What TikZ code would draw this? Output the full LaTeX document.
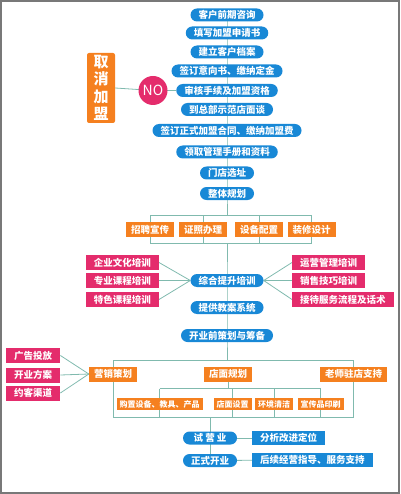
\documentclass[tikz,border=0pt]{standalone}
\usepackage{fontspec}
\setmainfont{Noto Sans CJK SC}
\usepackage{tikz}
\usetikzlibrary{positioning, backgrounds, calc}

\definecolor{pillblue}{RGB}{24,136,214}
\definecolor{boxorange}{RGB}{245,128,31}
\definecolor{boxpink}{RGB}{228,44,108}
\definecolor{linkgreen}{RGB}{128,186,174}
\definecolor{framegray}{RGB}{120,120,120}

\tikzstyle{pill} = [fill=pillblue, text=white, rounded corners=6.5pt, minimum height=13pt, inner xsep=8pt, inner ysep=0pt, font=\fontsize{9.5}{10}\selectfont\bfseries]
\tikzstyle{brect} = [fill=pillblue, text=white, minimum height=14pt, inner xsep=8pt, inner ysep=0pt, font=\fontsize{9.5}{10}\selectfont\bfseries]
\tikzstyle{obox} = [fill=boxorange, text=white, minimum height=15pt, inner xsep=5pt, inner ysep=0pt, font=\fontsize{9.5}{10}\selectfont\bfseries]
\tikzstyle{osmall} = [fill=boxorange, text=white, minimum height=12pt, inner xsep=3pt, inner ysep=0pt, font=\fontsize{8}{9}\selectfont\bfseries]
\tikzstyle{pbox} = [fill=boxpink, text=white, minimum height=15pt, inner xsep=8pt, inner ysep=0pt, font=\fontsize{9.5}{10}\selectfont\bfseries]
\tikzstyle{link} = [linkgreen, line width=0.8pt]

\begin{document}
\begin{tikzpicture}[x=1pt, y=-1pt]
\useasboundingbox (0,0) rectangle (400,494);
% Outer frame
\draw[framegray, line width=1.2pt] (1,1) rectangle (399,493);

% Main steps
\node[pill] (ask) at (227,15) {客户前期咨询};
\node[pill] (apply) at (227,33) {填写加盟申请书};
\node[pill] (record) at (227,52) {建立客户档案};
\node[pill] (intent) at (227,71) {签订意向书、缴纳定金};
\node[pill] (audit) at (227,90.5) {审核手续及加盟资格};
\node[pill] (visit) at (227,109.5) {到总部示范店面谈};
\node[pill] (contract) at (227,130.5) {签订正式加盟合同、缴纳加盟费};
\node[pill] (manual) at (227,152) {领取管理手册和资料};
\node[pill, minimum width=54pt] (site) at (227,173) {门店选址};
\node[pill, minimum width=54pt] (overall) at (227,193.5) {整体规划};

% Cancel branch
\node[fill=boxorange, text=white, rounded corners=2pt, minimum width=28pt, minimum height=70pt, inner sep=0pt, align=center, font=\fontsize{15}{17.5}\selectfont\bfseries] (cancel) at (101,88) {取\\消\\加\\盟};
\node[circle, fill=boxpink, text=white, minimum size=29pt, inner sep=0pt, font=\fontsize{14}{14}\selectfont] (no) at (153,90.5) {NO};

% Overall planning tasks
\coordinate (b1top) at (227,215);
\coordinate (b1bot) at (227,243);
\node[obox] (recruit) at (150,229.5) {招聘宣传};
\node[obox] (license) at (203,229.5) {证照办理};
\node[obox] (equip) at (259,229.5) {设备配置};
\node[obox] (decor) at (311.5,229.5) {装修设计};

% Training
\node[pill] (train) at (227,280.5) {综合提升培训};
\node[pbox, anchor=east] (culture) at (159,262.5) {企业文化培训};
\node[pbox, anchor=east] (major) at (159,280.5) {专业课程培训};
\node[pbox, anchor=east] (special) at (159,299.5) {特色课程培训};
\node[pbox, anchor=west] (ops) at (292,262.5) {运营管理培训};
\node[pbox, anchor=west] (sales) at (292,280.5) {销售技巧培训};
\node[pbox, anchor=west] (reception) at (292,299.5) {接待服务流程及话术};
\node[pill] (teach) at (227,307.5) {提供教案系统};
\node[pill] (prep) at (227,335.5) {开业前策划与筹备};

% Opening preparation
\coordinate (b2top) at (227,360);
\coordinate (b2bot) at (227,417);
\coordinate (subtop) at (232,388.5);
\node[obox] (mkt) at (113,374) {营销策划};
\node[obox] (shop) at (228,374) {店面规划};
\node[obox] (tutor) at (353.5,374) {老师驻店支持};
\node[pbox, anchor=west] (ad) at (6,355.5) {广告投放};
\node[pbox, anchor=west] (scheme) at (6,375) {开业方案};
\node[pbox, anchor=west] (channel) at (6,393) {约客渠道};
\node[osmall] (buy) at (159.5,404) {购置设备、教具、产品};
\node[osmall] (layout) at (232.5,404) {店面设置};
\node[osmall] (clean) at (274,404) {环境清洁};
\node[osmall] (print) at (320.5,404) {宣传品印刷};

% Opening
\node[pill, minimum width=54pt] (trial) at (210,438) {试 营 业};
\node[pill, minimum width=54pt] (open) at (210,460.5) {正式开业};
\node[brect, anchor=west] (analyze) at (252,438) {分析改进定位};
\node[brect, anchor=west] (follow) at (252,460) {后续经营指导、服务支持};

% Connectors
\begin{scope}[on background layer]
\draw[link] (ask.center) -- (overall.center) -- (b1top);
\draw[link] (recruit.center |- b1top) -- (decor.center |- b1top) -- (decor.center |- b1bot) -- (recruit.center |- b1bot) -- cycle;
\draw[link] (license.center |- b1top) -- (license.center |- b1bot);
\draw[link] (equip.center |- b1top) -- (equip.center |- b1bot);
\draw[link] (cancel.east) -- (no.center) -- (audit.west);
\draw[link] (b1bot) -- (train.center) -- (prep.center) -- (b2top);
\foreach \n in {culture, major, special} \draw[link] (\n.east) -- (train.west);
\foreach \n in {ops, sales, reception} \draw[link] (\n.west) -- (train.east);
\draw[link] (mkt.center |- b2top) -- (tutor.center |- b2top) -- (tutor.center |- b2bot) -- (mkt.center |- b2bot) -- cycle;
\foreach \n in {ad, scheme, channel} \draw[link] (\n.east) -- (mkt.west);
\draw[link] (shop.center) -- (shop.center |- subtop);
\draw[link] (buy.center |- subtop) -- (print.center |- subtop);
\foreach \n in {buy, layout, clean, print} \draw[link] (\n.center |- subtop) -- (\n.center |- b2bot);
\draw[link] (trial.center |- b2bot) -- (open.center);
\draw[link] (trial) -- (analyze);
\draw[link] (open) -- (follow);
\end{scope}
\end{tikzpicture}
\end{document}
